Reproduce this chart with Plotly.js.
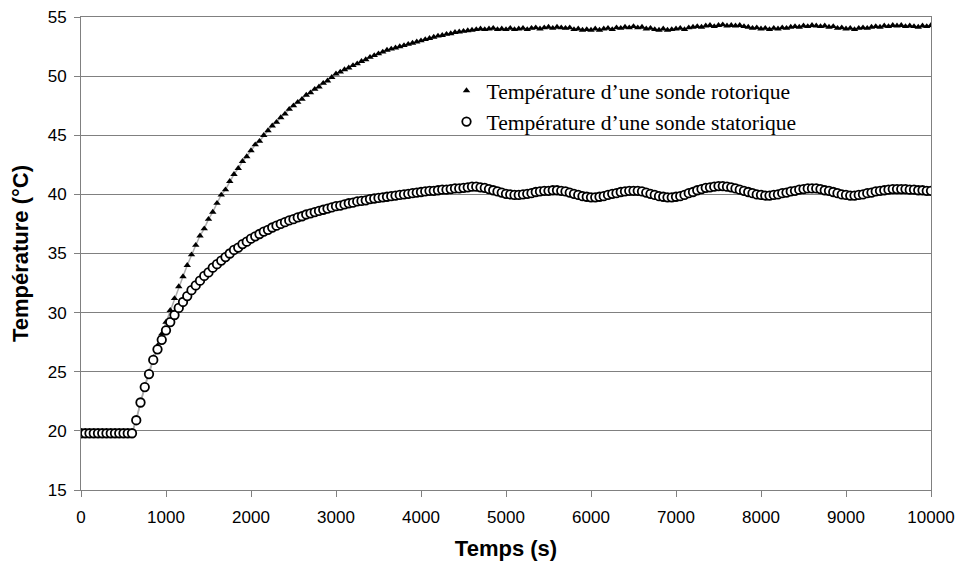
<!DOCTYPE html>
<html>
<head>
<meta charset="utf-8">
<script src="https://cdn.plot.ly/plotly-3.0.1.min.js"></script>
<style>html,body{margin:0;padding:0;background:#fff;}#chart{width:957px;height:564px;}</style>
</head>
<body>
<div id="chart"></div>
<script>
// Time (s)
const temps = [
  0,50,100,150,200,250,300,350,400,450,500,550,600,650,700,750,800,850,900,950,
  1000,1050,1100,1150,1200,1250,1300,1350,1400,1450,1500,1550,1600,1650,1700,1750,1800,1850,1900,1950,
  2000,2050,2100,2150,2200,2250,2300,2350,2400,2450,2500,2550,2600,2650,2700,2750,2800,2850,2900,2950,
  3000,3050,3100,3150,3200,3250,3300,3350,3400,3450,3500,3550,3600,3650,3700,3750,3800,3850,3900,3950,
  4000,4050,4100,4150,4200,4250,4300,4350,4400,4450,4500,4550,4600,4650,4700,4750,4800,4850,4900,4950,
  5000,5050,5100,5150,5200,5250,5300,5350,5400,5450,5500,5550,5600,5650,5700,5750,5800,5850,5900,5950,
  6000,6050,6100,6150,6200,6250,6300,6350,6400,6450,6500,6550,6600,6650,6700,6750,6800,6850,6900,6950,
  7000,7050,7100,7150,7200,7250,7300,7350,7400,7450,7500,7550,7600,7650,7700,7750,7800,7850,7900,7950,
  8000,8050,8100,8150,8200,8250,8300,8350,8400,8450,8500,8550,8600,8650,8700,8750,8800,8850,8900,8950,
  9000,9050,9100,9150,9200,9250,9300,9350,9400,9450,9500,9550,9600,9650,9700,9750,9800,9850,9900,9950,
  10000
];

// Rotor probe temperature (°C)
const rotor = [
  19.8,19.8,19.8,19.8,19.8,19.8,19.8,19.8,19.8,19.8,19.8,19.8,19.8,21.0,22.5,23.8,25.0,26.2,27.2,28.2,
  29.2,30.2,31.2,32.2,33.05,34.0,34.9,35.7,36.5,37.1,37.9,38.5,39.25,39.95,40.4,41.1,41.7,42.2,42.8,43.2,
  43.7,44.2,44.5,45.0,45.4,45.8,46.1,46.5,46.8,47.2,47.5,47.8,48.05,48.4,48.6,48.9,49.1,49.4,49.6,49.9,
  50.2,50.35,50.55,50.7,50.9,51.05,51.25,51.4,51.6,51.75,51.9,52.05,52.2,52.3,52.4,52.5,52.6,52.7,52.8,52.9,
  53.0,53.1,53.2,53.3,53.4,53.45,53.55,53.6,53.7,53.75,53.8,53.85,53.9,53.95,54.0,53.95,54.0,54.05,53.95,54.0,
  53.95,54.05,53.95,54.0,54.05,53.95,54.05,54.1,54.0,54.1,54.15,54.05,54.15,54.1,54.05,54.1,53.95,54.0,53.9,53.95,
  53.9,54.0,53.9,54.0,54.05,53.95,54.1,54.05,54.15,54.1,54.2,54.1,54.15,54.0,54.05,53.95,53.9,54.0,53.9,53.95,
  54.0,54.05,53.95,54.1,54.15,54.2,54.15,54.25,54.3,54.2,54.3,54.35,54.25,54.3,54.25,54.3,54.2,54.15,54.05,54.1,
  54.0,54.05,53.95,54.05,54.0,54.1,54.05,54.15,54.2,54.15,54.25,54.2,54.3,54.25,54.2,54.25,54.15,54.2,54.05,54.1,
  54.0,54.05,53.95,54.05,54.1,54.05,54.15,54.2,54.15,54.25,54.2,54.3,54.25,54.3,54.2,54.25,54.2,54.15,54.25,54.2,
  54.3
];

// Stator probe temperature (°C)
const stator = [
  19.8,19.8,19.8,19.8,19.8,19.8,19.8,19.8,19.8,19.8,19.8,19.8,19.8,20.9,22.4,23.7,24.8,26.0,26.9,27.7,
  28.5,29.2,29.8,30.4,30.9,31.4,31.9,32.3,32.7,33.1,33.4,33.8,34.1,34.4,34.7,35.0,35.3,35.5,35.8,36.0,
  36.25,36.45,36.65,36.85,37.0,37.2,37.35,37.5,37.65,37.8,37.9,38.05,38.15,38.3,38.4,38.5,38.6,38.7,38.8,38.9,
  39.0,39.05,39.15,39.25,39.3,39.4,39.45,39.5,39.6,39.65,39.7,39.75,39.8,39.85,39.9,39.95,40.0,40.05,40.1,40.15,
  40.2,40.25,40.3,40.3,40.35,40.4,40.4,40.45,40.5,40.5,40.55,40.6,40.65,40.65,40.6,40.55,40.45,40.35,40.25,40.15,
  40.05,40.0,39.95,39.95,40.0,40.05,40.1,40.2,40.25,40.3,40.3,40.35,40.35,40.3,40.25,40.15,40.05,39.95,39.85,39.8,
  39.75,39.75,39.8,39.85,39.95,40.05,40.1,40.2,40.25,40.3,40.3,40.3,40.25,40.15,40.05,39.95,39.85,39.8,39.75,39.75,
  39.8,39.85,39.95,40.1,40.2,40.35,40.45,40.55,40.6,40.65,40.7,40.7,40.65,40.6,40.5,40.4,40.3,40.2,40.1,40.0,
  39.95,39.9,39.9,39.95,40.0,40.1,40.15,40.25,40.3,40.4,40.45,40.5,40.5,40.5,40.45,40.35,40.3,40.2,40.1,40.0,
  39.95,39.9,39.9,39.95,40.0,40.1,40.15,40.25,40.3,40.35,40.4,40.45,40.45,40.45,40.45,40.4,40.4,40.35,40.35,40.3,
  40.3
];

const names = ["Température d’une sonde rotorique", "Température d’une sonde statorique"];
const xTitle = "Temps (s)";
const yTitle = "Température (°C)";

const lineStyle = {color: "#ababab", width: 1.5};

const traces = [
  {x: temps, y: rotor, mode: "lines", line: lineStyle, showlegend: false, hoverinfo: "skip"},
  {x: temps, y: stator, mode: "lines", line: lineStyle, showlegend: false, hoverinfo: "skip"},
  {x: temps, y: rotor, mode: "markers", name: names[0],
   marker: {symbol: "triangle-up", size: 6.5, color: "#000", line: {width: 0}}},
  {x: temps, y: stator, mode: "markers", name: names[1],
   marker: {symbol: "circle", size: 8.5, color: "#fff", line: {color: "#000", width: 1.8}}}
];

const tickFont = {family: "Liberation Sans, Arial, sans-serif", size: 17, color: "#000"};
const titleFont = {family: "Liberation Sans, Arial, sans-serif", size: 22, color: "#000", weight: "bold"};

const layout = {
  width: 957, height: 564,
  margin: {l: 81, r: 26, t: 17, b: 74},
  paper_bgcolor: "#fff", plot_bgcolor: "#fff",
  showlegend: true,
  legend: {
    x: 0.43, y: 0.888, xanchor: "left", yanchor: "top",
    bgcolor: "rgba(0,0,0,0)", borderwidth: 0,
    font: {family: "Liberation Serif, Times New Roman, serif", size: 21.6, color: "#000"},
    itemsizing: "trace", itemwidth: 30, tracegroupgap: 0
  },
  xaxis: {
    range: [0, 10000], tick0: 0, dtick: 1000, tickformat: "d", showgrid: false, zeroline: false,
    showline: true, linecolor: "#808080", linewidth: 1, mirror: true,
    ticks: "outside", ticklen: 6, tickcolor: "#808080", tickfont: tickFont, ticklabelstandoff: 6,
    title: {text: xTitle, font: titleFont, standoff: 14}
  },
  yaxis: {
    range: [15, 55], tick0: 15, dtick: 5, showgrid: true, gridcolor: "#808080", gridwidth: 1,
    zeroline: false, showline: true, linecolor: "#808080", linewidth: 1, mirror: true,
    ticks: "outside", ticklen: 6, tickcolor: "#808080", tickfont: tickFont, ticklabelstandoff: 4,
    title: {text: yTitle, font: titleFont, standoff: 12}
  }
};

Plotly.newPlot("chart", traces, layout, {displayModeBar: false, staticPlot: true});
</script>
</body>
</html>
